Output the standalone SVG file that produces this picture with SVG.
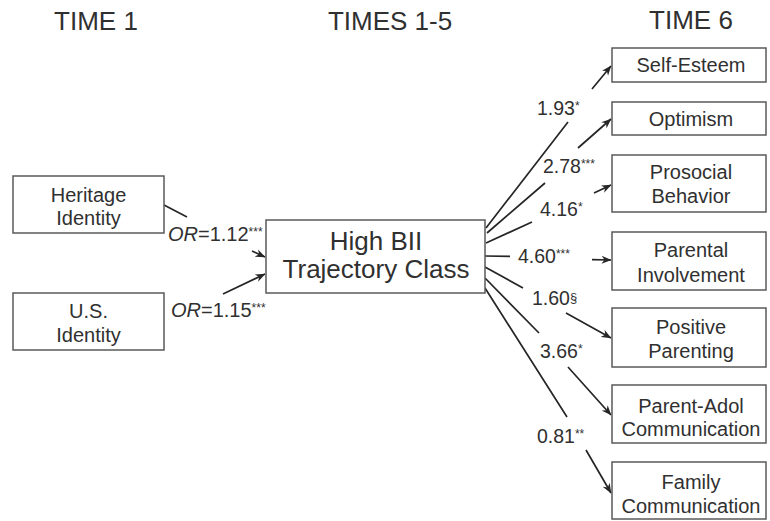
<svg xmlns="http://www.w3.org/2000/svg" width="770" height="521" viewBox="0 0 770 521">
<style>
text{font-family:"Liberation Sans",Arial,sans-serif;fill:#303030}
.hdr{font-size:26px;text-anchor:middle}
.box{fill:#fff;stroke:#5a5a5a;stroke-width:1.5}
.lbl{font-size:20px;text-anchor:middle}
.big{font-size:26px;text-anchor:middle}
.num{font-size:19.5px}
.sup{font-size:12px}
.con{fill:none;stroke:#262626;stroke-width:1.7;marker-end:url(#arr)}
</style>
<defs>
<marker id="arr" markerUnits="userSpaceOnUse" viewBox="0 0 10 9" refX="9.5" refY="4.5" markerWidth="10" markerHeight="9" orient="auto">
<path d="M0,0.5 L10,4.5 L0,8.5 L3,4.5 z" fill="#262626"/>
</marker>
</defs>
<rect width="770" height="521" fill="#fff"/>
<g id="headers">
<text class="hdr" x="96" y="30">TIME 1</text>
<text class="hdr" x="390" y="30">TIMES 1-5</text>
<text class="hdr" x="691" y="29">TIME 6</text>
</g>
<g id="connectors">
<path class="con" d="M164,205 L187,217 M252,251 L265,257"/>
<path class="con" d="M223,294 L265,274"/>
<path class="con" d="M486,228 L568,122 M592,89 L611,66"/>
<path class="con" d="M487,233 L545,183 M578,148 L611,119"/>
<path class="con" d="M486,243 L532,222 M594,193 L611,185"/>
<path class="con" d="M485,256 L510,256.4 M592,259.6 L611,260"/>
<path class="con" d="M485,267 L523,288 M566,313 L611,338"/>
<path class="con" d="M485,278 L539,333 M568,367 L611,415"/>
<path class="con" d="M485,288 L567,417 M586,450 L611,493"/>
</g>
<g id="heritage">
<rect class="box" x="13" y="176" width="151" height="57"/>
<text class="lbl" x="88.5" y="202">Heritage</text>
<text class="lbl" x="88.5" y="225">Identity</text>
</g>
<g id="us">
<rect class="box" x="13" y="293" width="151" height="57"/>
<text class="lbl" x="88.5" y="318">U.S.</text>
<text class="lbl" x="88.5" y="342">Identity</text>
</g>
<g id="highbii">
<rect class="box" x="266" y="220" width="219" height="73"/>
<text class="big" x="376" y="250">High BII</text>
<text class="big" x="376" y="278">Trajectory Class</text>
</g>
<g id="selfesteem">
<rect class="box" x="612" y="48" width="154" height="34"/>
<text class="lbl" x="691" y="72">Self-Esteem</text>
</g>
<g id="optimism">
<rect class="box" x="612" y="102" width="154" height="33"/>
<text class="lbl" x="691" y="126">Optimism</text>
</g>
<g id="prosocial">
<rect class="box" x="612" y="155" width="154" height="57"/>
<text class="lbl" x="691" y="179">Prosocial</text>
<text class="lbl" x="691" y="203">Behavior</text>
</g>
<g id="parental">
<rect class="box" x="612" y="232" width="154" height="58"/>
<text class="lbl" x="691" y="257">Parental</text>
<text class="lbl" x="691" y="282">Involvement</text>
</g>
<g id="positive">
<rect class="box" x="612" y="308" width="154" height="59"/>
<text class="lbl" x="691" y="334">Positive</text>
<text class="lbl" x="691" y="358">Parenting</text>
</g>
<g id="parentadol">
<rect class="box" x="612" y="385" width="154" height="58"/>
<text class="lbl" x="691" y="413">Parent-Adol</text>
<text class="lbl" x="691" y="436">Communication</text>
</g>
<g id="family">
<rect class="box" x="612" y="462" width="154" height="57"/>
<text class="lbl" x="691" y="489">Family</text>
<text class="lbl" x="691" y="513">Communication</text>
</g>
<g id="labels">
<text class="num" x="168" y="241" style="font-size:20px"><tspan font-style="italic">OR</tspan>=1.12<tspan class="sup" dy="-5">***</tspan></text>
<text class="num" x="171" y="317" style="font-size:20px"><tspan font-style="italic">OR</tspan>=1.15<tspan class="sup" dy="-5">***</tspan></text>
<text class="num" x="537" y="115">1.93<tspan class="sup" dy="-5">*</tspan></text>
<text class="num" x="543" y="173">2.78<tspan class="sup" dy="-5">***</tspan></text>
<text class="num" x="540" y="216">4.16<tspan class="sup" dy="-5">*</tspan></text>
<text class="num" x="518" y="263">4.60<tspan class="sup" dy="-5">***</tspan></text>
<text class="num" x="532" y="305">1.60<tspan style="font-size:13px" dy="-3">§</tspan></text>
<text class="num" x="540" y="358">3.66<tspan class="sup" dy="-5">*</tspan></text>
<text class="num" x="537" y="443">0.81<tspan class="sup" dy="-5">**</tspan></text>
</g>
</svg>
